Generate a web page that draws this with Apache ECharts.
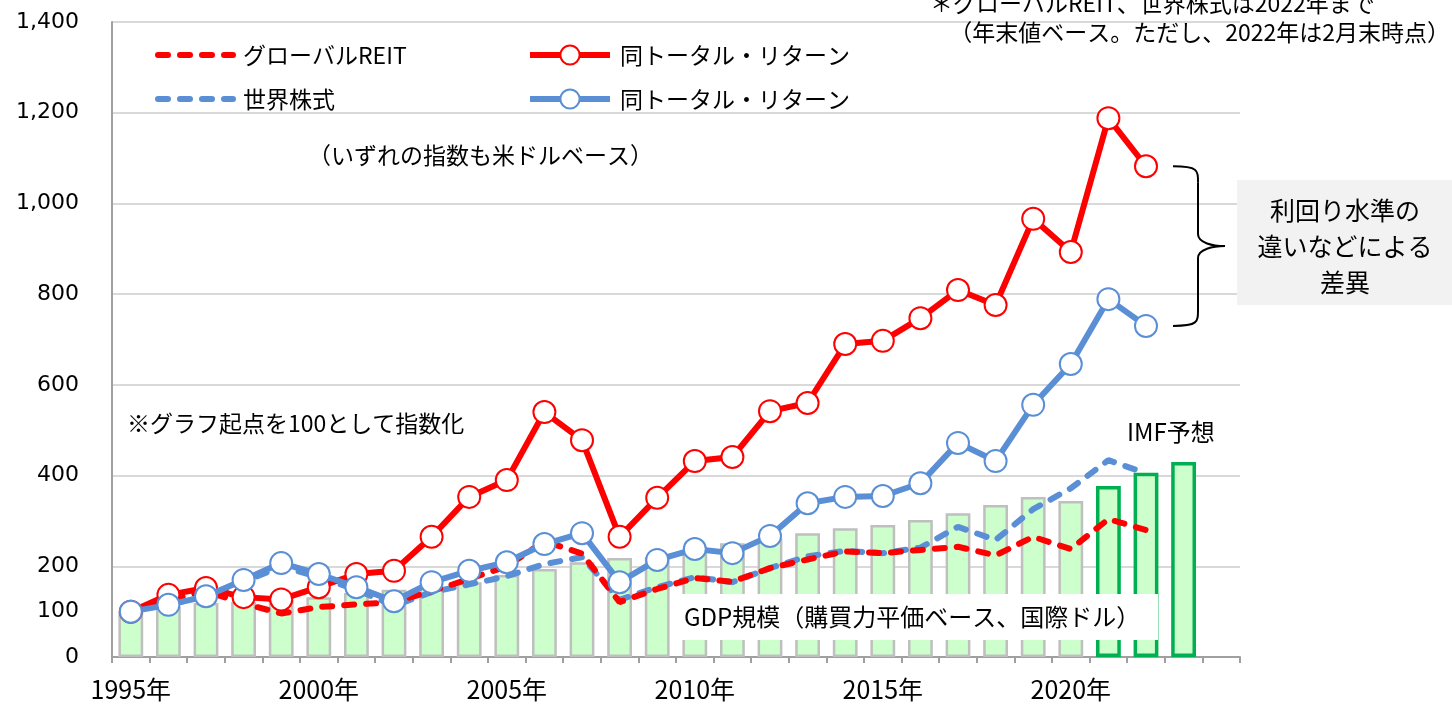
<!DOCTYPE html>
<html>
<head>
<meta charset="utf-8">
<script src="https://cdn.jsdelivr.net/npm/echarts@6/dist/echarts.min.js"></script>
<style>
  html, body { margin: 0; padding: 0; background: #fff; }
  #main { width: 1452px; height: 708px; }
</style>
</head>
<body>
<div id="main"></div>
<script>
// 年（最後の2024は空の区間）
const years = [1995, 1996, 1997, 1998, 1999, 2000, 2001, 2002, 2003, 2004,
  2005, 2006, 2007, 2008, 2009, 2010, 2011, 2012, 2013, 2014,
  2015, 2016, 2017, 2018, 2019, 2020, 2021, 2022, 2023, 2024];

// グローバルREIT（価格指数）
const reitPrice = [100, 126, 145, 118, 96, 110, 116, 121, 145, 172,
  200, 255, 228, 121, 150, 174, 166, 196, 215, 233,
  229, 236, 243, 224, 265, 238, 304, 280];
// 同トータル・リターン
const reitTotal = [100, 137, 152, 132, 127, 154, 183, 190, 265, 353,
  390, 540, 478, 265, 351, 432, 441, 542, 560, 690,
  697, 747, 809, 776, 966, 893, 1188, 1082];
// 世界株式（価格指数）
const worldPrice = [100, 117, 132, 165, 200, 176, 148, 113, 143, 160,
  178, 205, 220, 126, 154, 176, 165, 196, 222, 234,
  229, 241, 287, 258, 326, 372, 434, 405];
// 同トータル・リターン
const worldTotal = [100, 115, 134, 170, 207, 183, 154, 123, 165, 190,
  209, 249, 273, 165, 214, 238, 229, 267, 339, 353,
  355, 383, 472, 432, 556, 646, 789, 730];
// GDP規模（購買力平価ベース）
const gdp = [100, 110, 119, 121, 125, 132, 141, 148, 155, 165,
  181, 194, 209, 218, 220, 236, 251, 262, 273, 284,
  291, 302, 317, 335, 353, 344, 377, 406, 430];
// IMF予想の年
const forecastYears = [2021, 2022, 2023];

const yTicks = [0, 200, 400, 600, 800, 1000, 1200, 1400];

const RED = '#ff0000';
const BLUE = '#5a8fd6';
const JP = '"Noto Sans CJK JP", sans-serif';
const NUM = 'DejaVu Sans';

const chart = echarts.init(document.getElementById('main'));

const gdpData = gdp.map((v, i) => {
  if (forecastYears.indexOf(years[i]) >= 0) {
    return { value: v, itemStyle: { borderColor: '#00b050', borderWidth: 3.5 } };
  }
  return v;
});

const legendText = { fontFamily: JP, fontSize: 23, color: '#000', lineHeight: 24, padding: [0, 0, 0, 5] };

const option = {
  animation: false,
  backgroundColor: '#fff',
  grid: { left: 112, right: 212, top: 22, bottom: 51 },
  legend: [
    {
      left: 150, top: 38, orient: 'vertical',
      itemWidth: 75, itemHeight: 24, itemGap: 20,
      data: [
        { name: 'グローバルREIT', itemStyle: { opacity: 0 } },
        { name: '世界株式', itemStyle: { opacity: 0 } }
      ],
      lineStyle: { width: 6 },
      textStyle: legendText,
      formatter: n => n.trim()
    },
    {
      left: 522, top: 38, orient: 'vertical',
      itemWidth: 80, itemHeight: 24, itemGap: 20,
      data: ['同トータル・リターン', '同トータル・リターン '],
      lineStyle: { width: 6 },
      textStyle: legendText,
      formatter: n => n.trim()
    }
  ],
  xAxis: {
    type: 'category',
    data: years,
    boundaryGap: true,
    axisLine: { lineStyle: { color: '#a0a0a0', width: 2 } },
    axisTick: { show: true, interval: 0, length: 6, lineStyle: { color: '#a0a0a0', width: 2 } },
    axisLabel: {
      interval: (i, v) => Number(v) % 5 === 0,
      formatter: v => v + '年',
      fontFamily: JP, fontSize: 25, color: '#000', margin: 20
    },
    splitLine: { show: false }
  },
  yAxis: [
    {
      type: 'value', min: 0, max: 1400, interval: 200,
      axisLine: { show: true, lineStyle: { color: '#a0a0a0', width: 2 } },
      axisTick: { show: false },
      axisLabel: {
        fontFamily: NUM, fontSize: 22, color: '#000', margin: 33,
        formatter: v => yTicks.indexOf(v) >= 0 ? v.toLocaleString('en-US') : ''
      },
      splitLine: { lineStyle: { color: '#d9d9d9', width: 2 } }
    },
    {
      // 「100」の目盛ラベルだけを出す補助軸
      type: 'value', min: 0, max: 1400, interval: 100, position: 'left',
      axisLine: { show: false }, axisTick: { show: false }, splitLine: { show: false },
      axisLabel: {
        fontFamily: NUM, fontSize: 22, color: '#000', margin: 33,
        formatter: v => v === 100 ? '100' : ''
      }
    }
  ],
  series: [
    {
      name: 'GDP規模', type: 'bar', z: 2,
      data: gdpData,
      barWidth: '66%',
      itemStyle: { color: '#ccffcc', borderColor: '#bfbfbf', borderWidth: 2.5 }
    },
    {
      name: '世界株式', type: 'line', z: 5,
      data: worldPrice, showSymbol: false, symbol: 'none',
      itemStyle: { color: BLUE },
      lineStyle: { color: BLUE, width: 6, type: [10, 12], cap: 'round' }
    },
    {
      name: 'グローバルREIT', type: 'line', z: 5,
      data: reitPrice, showSymbol: false, symbol: 'none',
      itemStyle: { color: RED },
      lineStyle: { color: RED, width: 6, type: [10, 12], cap: 'round' }
    },
    {
      name: '同トータル・リターン', type: 'line', z: 6,
      data: reitTotal, symbol: 'circle', symbolSize: 22,
      itemStyle: { color: '#fff', borderColor: RED, borderWidth: 2 },
      lineStyle: { color: RED, width: 6 }
    },
    {
      name: '同トータル・リターン ', type: 'line', z: 7,
      data: worldTotal, symbol: 'circle', symbolSize: 22,
      itemStyle: { color: '#fff', borderColor: BLUE, borderWidth: 2 },
      lineStyle: { color: BLUE, width: 6 }
    }
  ]
};

chart.setOption(option);

// 注記（2022年の2つのトータル・リターンの差を括弧で示す）
const last = reitTotal.length - 1;
const pTop = chart.convertToPixel({ seriesIndex: 3 }, [last, reitTotal[last]]);
const pBot = chart.convertToPixel({ seriesIndex: 4 }, [last, worldTotal[last]]);
const xl = pTop[0] + 27, xs = pTop[0] + 52, xt = pTop[0] + 79;
const y0 = pTop[1], y1 = pBot[1], ym = (y0 + y1) / 2;
const braceStyle = { stroke: '#000', lineWidth: 2, fill: null };
const curve = (x1, yy1, cx1, cy1, cx2, cy2, x2, yy2) => ({
  type: 'bezierCurve', z: 10,
  shape: { x1, y1: yy1, cpx1: cx1, cpy1: cy1, cpx2: cx2, cpy2: cy2, x2, y2: yy2 },
  style: braceStyle
});
const seg = (x1, yy1, x2, yy2) => ({
  type: 'line', z: 10, shape: { x1, y1: yy1, x2, y2: yy2 }, style: braceStyle
});

const txt = (text, x, y, size, align) => ({
  type: 'text', z: 10,
  style: { text, x, y, fill: '#000', font: `${size}px ${JP}`, textAlign: align || 'left', textVerticalAlign: 'middle' }
});

chart.setOption({
  graphic: [
    txt('＊グローバルREIT、世界株式は2022年まで', 930, 3, 23),
    txt('（年末値ベース。ただし、2022年は2月末時点）', 1450, 32, 23, 'right'),
    txt('（いずれの指数も米ドルベース）', 308, 155, 23),
    txt('※グラフ起点を100として指数化', 127, 423, 23),
    txt('IMF予想', 1127, 432, 24),
    { type: 'rect', z: 4, shape: { x: 672, y: 594, width: 486, height: 46 }, style: { fill: '#fff' } },
    txt('GDP規模（購買力平価ベース、国際ドル）', 684, 617, 24),
    curve(xl, y0, xs, y0, xs, y0 + 4, xs, y0 + 16),
    seg(xs, y0 + 16, xs, ym - 12),
    curve(xs, ym - 12, xs, ym - 3, xt - 12, ym, xt, ym),
    curve(xt, ym, xt - 12, ym, xs, ym + 3, xs, ym + 12),
    seg(xs, ym + 12, xs, y1 - 16),
    curve(xs, y1 - 16, xs, y1 - 4, xs, y1, xl, y1),
    { type: 'rect', z: 9, shape: { x: 1237, y: 180, width: 215, height: 125 }, style: { fill: '#f2f2f2' } },
    txt('利回り水準の', 1345, 210, 25, 'center'),
    txt('違いなどによる', 1345, 246, 25, 'center'),
    txt('差異', 1345, 282, 25, 'center')
  ]
});
</script>
</body>
</html>
